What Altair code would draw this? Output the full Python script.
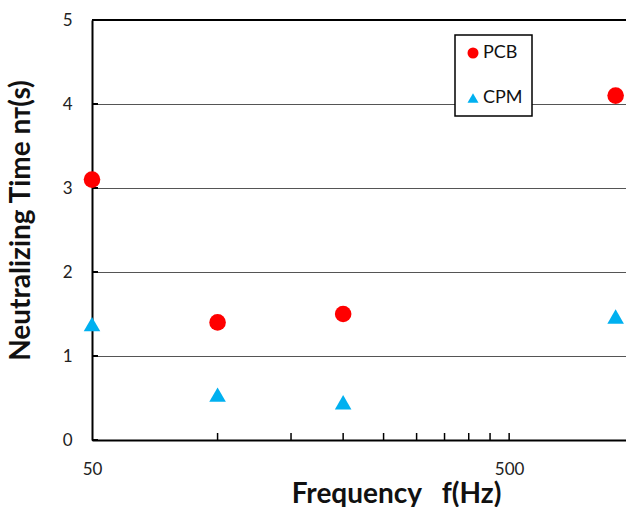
import altair as alt
import pandas as pd

# Measured neutralizing times for the two materials
freq_hz = [50, 100, 200, 900]
pcb_time = [3.1, 1.4, 1.5, 4.1]
cpm_time = [1.38, 0.54, 0.45, 1.47]

series_names = ["PCB", "CPM"]
series_colors = ["#FF0000", "#00B0F0"]
series_shapes = ["circle", "triangle-up"]

# Log-axis tick marks (drawn inward) and the labelled values
x_tick_values = [100, 150, 200, 250, 300, 350, 400, 450, 500]
x_label_values = [50, 500]
y_tick_values = [0, 1, 2, 3, 4, 5]

W, H = 534, 420
FONT = "Lato"
NBSP = "\u00a0"

rows = []
for f, p, c in zip(freq_hz, pcb_time, cpm_time):
    rows.append({"freq": f, "time": p, "series": "PCB"})
    rows.append({"freq": f, "time": c, "series": "CPM"})
df = pd.DataFrame(rows)

x_scale = alt.Scale(type="log", domain=[50, 953], nice=False)
y_scale = alt.Scale(domain=[0, 5], nice=False)

points = alt.Chart(df).mark_point(filled=True, opacity=1, strokeWidth=0, size=275).encode(
    x=alt.X("freq:Q", scale=x_scale,
            axis=alt.Axis(values=x_label_values,
                          title="Frequency" + NBSP * 3 + "f(Hz)",
                          grid=False, tickSize=0, labelPadding=21, labelFlush=False,
                          domainColor="black", domainWidth=2,
                          labelFont=FONT, labelFontSize=17, labelColor="#222",
                          titleFont=FONT, titleFontSize=28, titleFontWeight="bold",
                          titleColor="#111", titleX=304, titleY=62,
                          titleBaseline="alphabetic", titleAlign="center")),
    y=alt.Y("time:Q", scale=y_scale,
            axis=alt.Axis(values=y_tick_values, format="d",
                          title="Neutralizing Time nᴛ(s)",
                          grid=True, gridColor="#555", gridWidth=1,
                          tickSize=0, labelPadding=20, labelFlush=False,
                          domainColor="black", domainWidth=2,
                          labelFont=FONT, labelFontSize=17, labelColor="#222",
                          titleFont=FONT, titleFontSize=28, titleFontWeight="bold",
                          titleColor="#111", titleX=-63, titleY=200,
                          titleBaseline="alphabetic", titleAlign="center")),
    color=alt.Color("series:N",
                    scale=alt.Scale(domain=series_names, range=series_colors),
                    legend=alt.Legend(title=None, orient="none",
                                      legendX=363, legendY=15, symbolSize=121)),
    shape=alt.Shape("series:N",
                    scale=alt.Scale(domain=series_names, range=series_shapes)),
)

tick_df = pd.DataFrame({"freq": x_tick_values})
x_ticks = alt.Chart(tick_df).mark_rule(color="black", strokeWidth=1.5).encode(
    x=alt.X("freq:Q", scale=x_scale),
    y=alt.value(H),
    y2=alt.value(H - 7),
)

ytick_df = pd.DataFrame({"time": y_tick_values})
y_ticks = alt.Chart(ytick_df).mark_rule(color="black", strokeWidth=2).encode(
    y=alt.Y("time:Q", scale=y_scale),
    x=alt.value(0),
    x2=alt.value(6),
)

top_df = pd.DataFrame({"time": [5]})
top_line = alt.Chart(top_df).mark_rule(color="black", strokeWidth=2).encode(
    y=alt.Y("time:Q", scale=y_scale),
    x=alt.value(0),
    x2=alt.value(W),
)

chart = alt.layer(top_line, y_ticks, x_ticks, points).properties(
    width=W, height=H,
    autosize=alt.AutoSizeParams(type="none"),
    padding={"left": 92, "top": 20, "right": 0, "bottom": 67},
    background="white",
).configure_view(stroke=None).configure_legend(
    strokeColor="black", strokeWidth=1.5, fillColor="white",
    padding=9, rowPadding=27, labelOffset=1,
    labelFont=FONT, labelFontSize=18, labelColor="#111",
    symbolStrokeWidth=0, cornerRadius=0,
)

chart.save("out.html", embed_options={"renderer": "svg", "actions": False})
